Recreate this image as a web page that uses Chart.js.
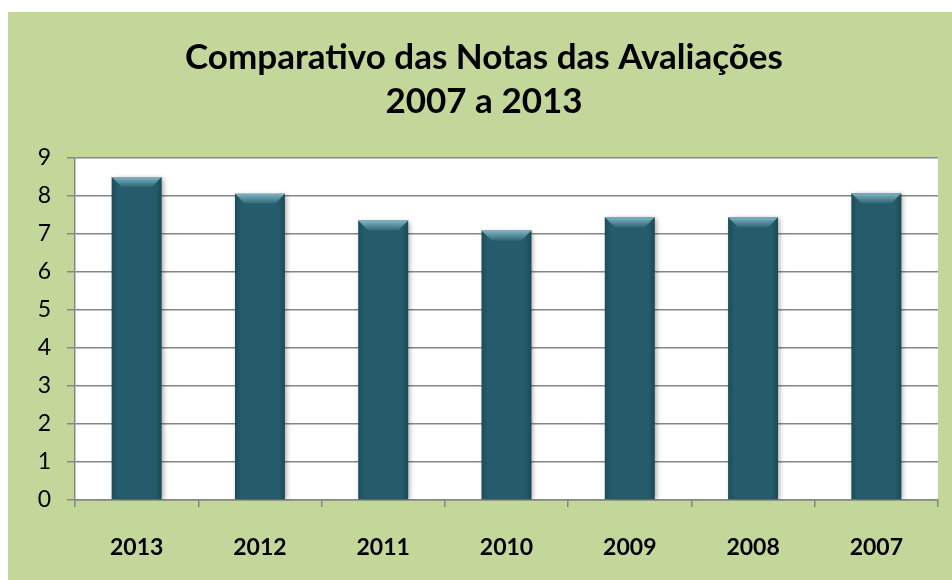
<!DOCTYPE html>
<html>
<head>
<meta charset="utf-8">
<script src="https://cdn.jsdelivr.net/npm/chart.js@4.4.0/dist/chart.umd.min.js"></script>
<style>
  html, body { margin: 0; padding: 0; background: #ffffff; }
  body { width: 952px; height: 580px; position: relative; overflow: hidden; }
  #wrap { position: absolute; left: 8px; top: 12px; width: 944px; height: 568px; }
</style>
</head>
<body>
<div id="wrap"><canvas id="c"></canvas></div>
<script>
const categories = ['2013', '2012', '2011', '2010', '2009', '2008', '2007'];
const notas = [8.5, 8.06, 7.35, 7.09, 7.44, 7.44, 8.07];
const titleLines = ['Comparativo das Notas das Avaliações', '2007 a 2013'];
const yMin = 0, yMax = 9, yStep = 1;

const bgPlugin = {
  id: 'bg',
  beforeDraw(chart) {
    const { ctx, width, height, chartArea } = chart;
    ctx.save();
    ctx.fillStyle = '#c4d79b';
    ctx.fillRect(0, 0, width, height);
    ctx.fillStyle = '#ffffff';
    ctx.fillRect(chartArea.left, chartArea.top, chartArea.right - chartArea.left, chartArea.bottom - chartArea.top);
    ctx.restore();
  }
};

const bevelPlugin = {
  id: 'bevel',
  beforeDatasetsDraw(chart) {
    const ctx = chart.ctx;
    ctx.save();
    ctx.shadowColor = 'rgba(0,0,0,0.35)';
    ctx.shadowBlur = 5;
    ctx.shadowOffsetX = 2;
    ctx.shadowOffsetY = 1;
  },
  afterDatasetsDraw(chart) {
    const ctx = chart.ctx;
    ctx.restore();
    const meta = chart.getDatasetMeta(0);
    meta.data.forEach(bar => {
      const { x, y, base, width } = bar.getProps(['x', 'y', 'base', 'width'], true);
      const l = x - width / 2, r = x + width / 2;
      const b = 10;
      ctx.save();
      const hg = ctx.createLinearGradient(l, 0, r, 0);
      hg.addColorStop(0, 'rgba(0,0,0,0.18)');
      hg.addColorStop(0.12, 'rgba(0,0,0,0)');
      hg.addColorStop(0.88, 'rgba(0,0,0,0)');
      hg.addColorStop(1, 'rgba(0,0,0,0.22)');
      ctx.fillStyle = hg;
      ctx.fillRect(l, y, width, base - y);
      const vg = ctx.createLinearGradient(0, y, 0, y + b);
      vg.addColorStop(0, '#7fb6c4');
      vg.addColorStop(1, '#2f6878');
      ctx.fillStyle = vg;
      ctx.beginPath();
      ctx.moveTo(l, y);
      ctx.lineTo(r, y);
      ctx.lineTo(r - b, y + b);
      ctx.lineTo(l + b, y + b);
      ctx.closePath();
      ctx.fill();
      ctx.restore();
    });
  }
};

new Chart(document.getElementById('c'), {
  type: 'bar',
  data: {
    labels: categories,
    datasets: [{
      data: notas,
      backgroundColor: '#245c6b',
      borderWidth: 0,
      categoryPercentage: 1.0,
      barPercentage: 0.405
    }]
  },
  options: {
    responsive: true,
    maintainAspectRatio: false,
    animation: false,
    devicePixelRatio: 1,
    layout: { padding: { left: 22, right: 14, top: 0, bottom: 0 } },
    plugins: {
      legend: { display: false },
      tooltip: { enabled: false },
      title: {
        display: true,
        text: titleLines,
        color: '#000000',
        font: { family: 'Lato', size: 35, weight: 'bold', lineHeight: 1.27 },
        padding: { top: 23, bottom: 34 }
      }
    },
    scales: {
      x: {
        grid: {
          display: true,
          drawOnChartArea: false,
          drawTicks: true,
          tickLength: 7,
          offset: true,
          color: '#868686',
          lineWidth: 1.5
        },
        border: { display: true, color: '#868686', width: 1.5 },
        ticks: {
          color: '#000000',
          font: { family: 'Lato', size: 23, weight: 'bold' },
          padding: 27
        },
        afterFit(scale) { scale.height = 80; }
      },
      y: {
        min: yMin,
        max: yMax,
        grid: {
          display: true,
          drawTicks: true,
          tickLength: 8,
          color: '#868686',
          lineWidth: 1.5
        },
        border: { display: true, color: '#868686', width: 1.5 },
        ticks: {
          stepSize: yStep,
          color: '#000000',
          font: { family: 'Lato', size: 23 },
          padding: 16
        },
        afterFit(scale) { scale.width = 45; }
      }
    }
  },
  plugins: [bgPlugin, bevelPlugin]
});
</script>
</body>
</html>
